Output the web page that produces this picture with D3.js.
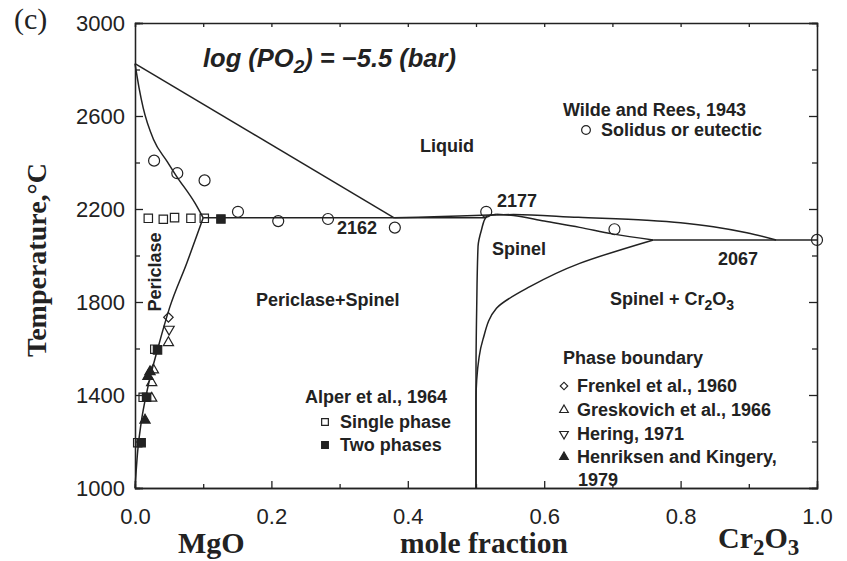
<!DOCTYPE html>
<html lang="en">
<head>
<meta charset="utf-8">
<script src="https://cdn.jsdelivr.net/npm/d3@7"></script>
<style>
  body { margin: 0; background: #fff; }
  svg { display: block; background: #fff; }
  .lbl { font-family: "Liberation Sans", Arial, sans-serif; font-weight: bold; font-size: 18px; fill: #222; }
  .serif { font-family: "Liberation Serif", "Times New Roman", serif; fill: #222; }
  .tick text { font-family: "Liberation Sans", Arial, sans-serif; font-size: 22px; fill: #222; }
  .tick line, .domain { stroke: #222; stroke-width: 1.3; }
  .curve { fill: none; stroke: #222; stroke-width: 1.5; }
</style>
<title></title>
</head>
<body>
<script>
var width = 847, height = 561;

// tick values
var xMajor = [0, 0.2, 0.4, 0.6, 0.8, 1.0];
var xMinor = [0.1, 0.3, 0.5, 0.7, 0.9];
var yMajor = [1000, 1400, 1800, 2200, 2600, 3000];
var yMinor = [1200, 1600, 2000, 2400, 2800];

// phase boundaries: [mole fraction Cr2O3, temperature]
var liquidusMgO = [[0, 2825], [0.38, 2162]];
var solidusMgO = [[0, 2825], [0.006, 2720], [0.012, 2635], [0.027, 2500], [0.047, 2405], [0.06, 2345], [0.088, 2225], [0.1, 2162]];
var eutecticLeft = [[0.1, 2162], [0.515, 2162]];
var liquidusSpinel = [[0.38, 2162], [0.45, 2168], [0.52, 2174], [0.555, 2176], [0.65, 2164], [0.75, 2152], [0.8, 2141], [0.848, 2124], [0.897, 2098], [0.94, 2067]];
var solidusSpinel = [[0.53, 2177], [0.555, 2172], [0.6, 2148], [0.652, 2121], [0.70, 2093], [0.76, 2067]];
var eutecticRight = [[0.76, 2067], [1.0, 2067]];
var periclaseSolvus = [[0, 1000], [0.004, 1160], [0.009, 1280], [0.018, 1422], [0.034, 1606], [0.051, 1778], [0.076, 1968], [0.1, 2162]];
// listed from the top down
var spinelLeft = [[0.53, 2177], [0.515, 2167], [0.508, 2110], [0.503, 2040], [0.501, 1770], [0.5, 1500], [0.5, 1000]];
var spinelRight = [[0.76, 2067], [0.652, 1966], [0.579, 1866], [0.53, 1773], [0.51, 1637], [0.501, 1464], [0.5, 1378], [0.5, 1000]];

// experimental points
var wildeRees = [[0.028, 2408], [0.062, 2354], [0.102, 2323], [0.151, 2188], [0.21, 2148], [0.283, 2157], [0.381, 2120], [0.515, 2188], [0.703, 2113], [1.0, 2067]];
var alperSingle = [[0.0195, 2160], [0.0415, 2156], [0.058, 2163], [0.082, 2160], [0.1016, 2160], [0.029, 1597], [0.012, 1390], [0.004, 1195]];
var alperTwo = [[0.126, 2157], [0.033, 1594], [0.017, 1390], [0.009, 1195]];
var frenkel = [[0.049, 1734]];
var greskovich = [[0.049, 1625], [0.027, 1508], [0.0245, 1453], [0.0245, 1386]];
var hering = [[0.05, 1683]];
var henriksen = [[0.022, 1500], [0.019, 1480], [0.0147, 1292]];

var mLeft = 135, mRight = 817, mTop = 23, mBottom = 488;

var x = d3.scaleLinear().domain([0, 1]).range([mLeft, mRight]);
var y = d3.scaleLinear().domain([1000, 3000]).range([mBottom, mTop]);

var svg = d3.select("body").append("svg").attr("width", width).attr("height", height);

// axes, ticks pointing inward
svg.append("g").attr("transform", "translate(0," + mBottom + ")")
  .call(d3.axisBottom(x).tickValues(xMajor).tickSize(-7).tickPadding(20).tickFormat(d3.format(".1f")));
svg.append("g").attr("transform", "translate(0," + mBottom + ")")
  .call(d3.axisBottom(x).tickValues(xMinor).tickSize(-4).tickFormat(""));
svg.append("g").attr("transform", "translate(0," + mTop + ")")
  .call(d3.axisTop(x).tickValues(xMajor.concat(xMinor)).tickSize(-4).tickFormat(""));
svg.append("g").attr("transform", "translate(" + mLeft + ",0)")
  .call(d3.axisLeft(y).tickValues(yMajor).tickSize(-8).tickPadding(10).tickFormat(d3.format("d")));
svg.append("g").attr("transform", "translate(" + mLeft + ",0)")
  .call(d3.axisLeft(y).tickValues(yMinor).tickSize(-5).tickFormat(""));
svg.append("g").attr("transform", "translate(" + mRight + ",0)")
  .call(d3.axisRight(y).tickValues(yMajor).tickSize(-8).tickFormat(""));
svg.append("g").attr("transform", "translate(" + mRight + ",0)")
  .call(d3.axisRight(y).tickValues(yMinor).tickSize(-5).tickFormat(""));

// phase boundary lines
function path(curve){
  return d3.line().x(function(d){ return x(d[0]); }).y(function(d){ return y(d[1]); }).curve(curve);
}
[liquidusMgO, eutecticLeft, eutecticRight].forEach(function(p){
  svg.append("path").attr("class", "curve").attr("d", path(d3.curveLinear)(p));
});
[solidusMgO, liquidusSpinel, solidusSpinel, periclaseSolvus].forEach(function(p){
  svg.append("path").attr("class", "curve").attr("d", path(d3.curveMonotoneX)(p));
});
[spinelLeft, spinelRight].forEach(function(p){
  svg.append("path").attr("class", "curve").attr("d", path(d3.curveMonotoneY)(p));
});

// markers
function addPoints(data, type, size, rot, filled){
  svg.append("g").selectAll("path").data(data).enter().append("path")
    .attr("d", d3.symbol().type(type).size(size))
    .attr("transform", function(d){ return "translate(" + x(d[0]) + "," + y(d[1]) + ") rotate(" + rot + ")"; })
    .attr("fill", filled ? "#222" : "#fff")
    .attr("fill-opacity", filled ? 1 : 0)
    .attr("stroke", "#222").attr("stroke-width", 1.2);
}
addPoints(wildeRees, d3.symbolCircle, 95, 0, false);
addPoints(alperSingle, d3.symbolSquare, 70, 0, false);
addPoints(alperTwo, d3.symbolSquare, 70, 0, true);
addPoints(frenkel, d3.symbolSquare, 45, 45, false);
addPoints(greskovich, d3.symbolTriangle, 45, 0, false);
addPoints(hering, d3.symbolTriangle, 45, 180, false);
addPoints(henriksen, d3.symbolTriangle, 45, 0, true);

// title and annotations
svg.append("text").attr("class", "serif").attr("x", 14).attr("y", 29).attr("font-size", 30).text("(c)");

var title = svg.append("text").attr("class", "lbl").attr("x", 203).attr("y", 67)
  .style("font-size", "25.5px").style("font-style", "italic");
title.append("tspan").text("log (PO");
title.append("tspan").attr("dy", 6).style("font-size", "19px").text("2");
title.append("tspan").attr("dy", -6).text(") = \u22125.5 (bar)");

function label(txt, px, py){
  return svg.append("text").attr("class", "lbl").attr("x", px).attr("y", py).text(txt);
}
label("Liquid", 420, 152);
label("Wilde and Rees, 1943", 563, 116);
label("Solidus or eutectic", 601, 136);
label("2177", 497, 207);
label("2162", 337, 234);
label("Spinel", 492, 255);
label("2067", 718, 265);
label("Periclase+Spinel", 256, 306);
var sc = label("Spinel + Cr", 610, 305);
sc.append("tspan").attr("dy", 5).style("font-size", "14px").text("2");
sc.append("tspan").attr("dy", -5).text("O");
sc.append("tspan").attr("dy", 5).style("font-size", "14px").text("3");
svg.append("text").attr("class", "lbl").attr("transform", "translate(161,272) rotate(-90)")
  .attr("text-anchor", "middle").text("Periclase");

label("Alper et al., 1964", 305, 403);
label("Single phase", 340, 428);
label("Two phases", 340, 451);
label("Phase boundary", 563, 364);
label("Frenkel et al., 1960", 577, 392);
label("Greskovich et al., 1966", 577, 416);
label("Hering, 1971", 577, 440);
label("Henriksen and Kingery,", 577, 463);
label("1979", 578, 486);

// legend symbols
function legendSym(type, size, rot, filled, px, py){
  svg.append("path").attr("d", d3.symbol().type(type).size(size))
    .attr("transform", "translate(" + px + "," + py + ") rotate(" + rot + ")")
    .attr("fill", filled ? "#222" : "none").attr("stroke", "#222").attr("stroke-width", 1.2);
}
legendSym(d3.symbolCircle, 60, 0, false, 586, 130);
legendSym(d3.symbolSquare, 45, 0, false, 325, 422);
legendSym(d3.symbolSquare, 45, 0, true, 325, 445);
legendSym(d3.symbolSquare, 28, 45, false, 564, 386);
legendSym(d3.symbolTriangle, 32, 0, false, 564, 410);
legendSym(d3.symbolTriangle, 32, 180, false, 564, 434);
legendSym(d3.symbolTriangle, 32, 0, true, 564, 457);

// axis titles
svg.append("text").attr("class", "serif").attr("font-weight", "bold").attr("font-size", 28)
  .attr("text-anchor", "middle").attr("transform", "translate(46,260) rotate(-90)").text("Temperature,\u00b0C");
svg.append("text").attr("class", "serif").attr("font-weight", "bold").attr("font-size", 30)
  .attr("x", 178).attr("y", 553).text("MgO");
svg.append("text").attr("class", "serif").attr("font-weight", "bold").attr("font-size", 29.5)
  .attr("x", 400).attr("y", 553).text("mole fraction");
var cr = svg.append("text").attr("class", "serif").attr("font-weight", "bold").attr("font-size", 30)
  .attr("x", 718).attr("y", 548).text("Cr");
cr.append("tspan").attr("dy", 7).attr("font-size", 23).text("2");
cr.append("tspan").attr("dy", -7).text("O");
cr.append("tspan").attr("dy", 7).attr("font-size", 23).text("3");
</script>
</body>
</html>
